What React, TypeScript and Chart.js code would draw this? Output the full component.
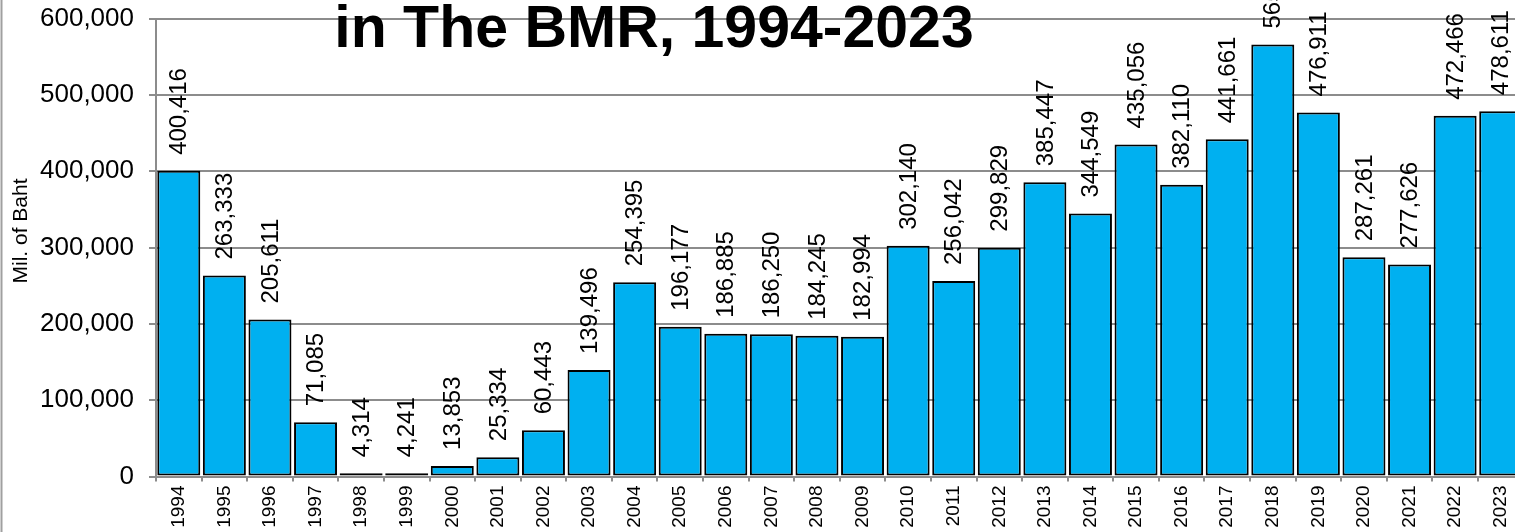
import React, { useEffect, useRef } from "react";
import { Chart, registerables } from "chart.js";

Chart.register(...registerables);

const years: string[] = [
  "1994", "1995", "1996", "1997", "1998", "1999", "2000", "2001", "2002", "2003",
  "2004", "2005", "2006", "2007", "2008", "2009", "2010", "2011", "2012", "2013",
  "2014", "2015", "2016", "2017", "2018", "2019", "2020", "2021", "2022", "2023",
];

const values: number[] = [
  400416, 263333, 205611, 71085, 4314, 4241, 13853, 25334, 60443, 139496,
  254395, 196177, 186885, 186250, 184245, 182994, 302140, 256042, 299829, 385447,
  344549, 435056, 382110, 441661, 565917, 476911, 287261, 277626, 472466, 478611,
];

const yTicks: number[] = [0, 100000, 200000, 300000, 400000, 500000, 600000];

const titleText = "in The BMR, 1994-2023";
const yAxisTitle = "Mil. of Baht";

const FONT = '"Liberation Sans", Arial, sans-serif';
const GRID = "#8c8c8c";

const fmt = (v: number) => v.toLocaleString("en-US");

export default function App() {
  const ref = useRef<HTMLCanvasElement | null>(null);

  useEffect(() => {
    document.body.style.margin = "0";
    document.body.style.overflow = "hidden";
    const canvas = ref.current;
    if (!canvas) return;

    const decor = {
      id: "decor",
      afterDatasetsDraw(chart: any) {
        const ctx = chart.ctx;
        const meta = chart.getDatasetMeta(0);
        meta.data.forEach((bar: any, i: number) => {
          ctx.save();
          ctx.fillStyle = "#000";
          ctx.font = "normal 400 24px \"Liberation Sans\", Arial, sans-serif";
          ctx.translate(bar.x + 1, bar.y - 16);
          ctx.rotate(-Math.PI / 2);
          ctx.textAlign = "left";
          ctx.textBaseline = "middle";
          ctx.fillText(fmt(values[i]), 0, 0);
          ctx.restore();
        });
      },
      afterDraw(chart: any) {
        const ctx = chart.ctx;
        ctx.save();
        ctx.strokeStyle = "#a0a0a0";
        ctx.lineWidth = 2;
        ctx.beginPath();
        ctx.moveTo(1.5, 0);
        ctx.lineTo(1.5, chart.height);
        ctx.stroke();
        ctx.restore();

        ctx.save();
        ctx.fillStyle = "#000";
        ctx.font = "normal 400 21px \"Liberation Sans\", Arial, sans-serif";
        ctx.translate(21, 231);
        ctx.rotate(-Math.PI / 2);
        ctx.textAlign = "center";
        ctx.textBaseline = "middle";
        ctx.fillText(yAxisTitle, 0, 0);
        ctx.restore();

        ctx.save();
        ctx.fillStyle = "#000";
        ctx.font = "normal 700 59px \"Liberation Sans\", Arial, sans-serif";
        ctx.textAlign = "center";
        ctx.textBaseline = "alphabetic";
        ctx.fillText(titleText, 654, 47);
        ctx.restore();
      },
    };

    const chart = new Chart(canvas, {
      type: "bar",
      data: {
        labels: years,
        datasets: [
          {
            data: values,
            backgroundColor: "#00B0F0",
            borderColor: "#000000",
            borderWidth: 2,
            borderSkipped: false,
            barPercentage: 0.943,
            categoryPercentage: 1,
          },
        ],
      },
      options: {
        responsive: false,
        animation: false,
        devicePixelRatio: 1,
        layout: { padding: { top: 18.5, left: 0, right: 6.5, bottom: 0 } },
        plugins: {
          legend: { display: false },
          tooltip: { enabled: false },
          title: { display: false },
        },
        scales: {
          x: {
            afterFit(scale: any) {
              scale.height = 55.5;
              scale.paddingLeft = 0;
              scale.paddingRight = 0;
            },
            grid: {
              drawOnChartArea: false,
              drawTicks: true,
              tickLength: 5,
              color: GRID,
              lineWidth: 2,
              offset: true,
            },
            border: { color: GRID, width: 2 },
            ticks: {
              autoSkip: false,
              minRotation: 90,
              maxRotation: 90,
              padding: 4,
              color: "#000",
              font: { family: FONT, size: 19 },
            },
          },
          y: {
            min: 0,
            max: 600000,
            afterFit(scale: any) {
              scale.width = 156;
              scale.paddingTop = 0;
              scale.paddingBottom = 0;
            },
            afterBuildTicks(scale: any) {
              scale.ticks = yTicks.map((v) => ({ value: v }));
            },
            grid: {
              color: GRID,
              lineWidth: 2,
              drawTicks: true,
              tickLength: 7,
            },
            border: { color: GRID, width: 2 },
            ticks: {
              padding: 15,
              color: "#000",
              font: { family: FONT, size: 26 },
              callback: (v: any) => fmt(Number(v)),
            },
          },
        },
      },
      plugins: [decor],
    });

    return () => chart.destroy();
  }, []);

  return (
    <div style={{ width: 1515, height: 532, overflow: "hidden", position: "relative" }}>
      <canvas
        ref={ref}
        width={1530}
        height={532}
        style={{ width: 1530, height: 532, display: "block" }}
      />
    </div>
  );
}
